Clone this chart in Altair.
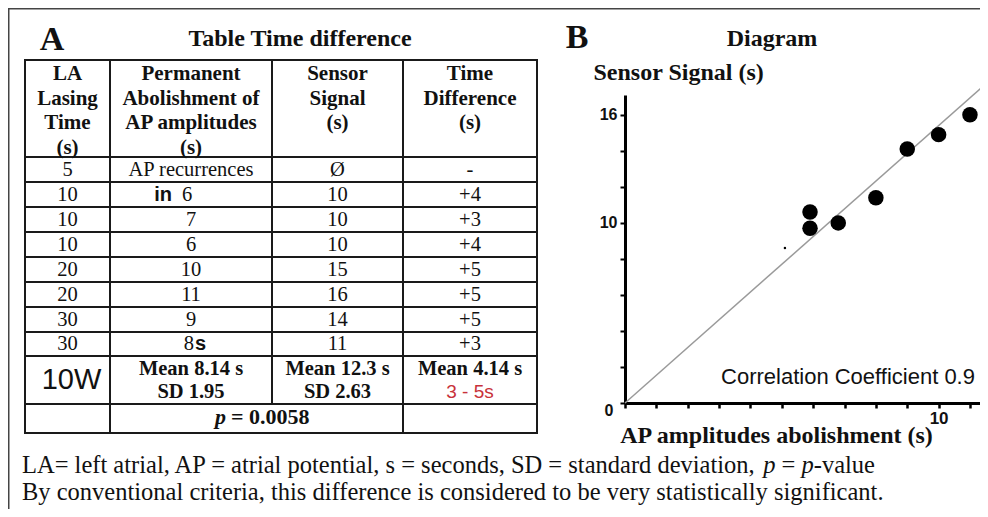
import altair as alt
import pandas as pd

# ---------------- data ----------------
header_labels = ["LA\nLasing\nTime\n(s)",
                 "Permanent\nAbolishment of\nAP amplitudes\n(s)",
                 "Sensor\nSignal\n(s)",
                 "Time\nDifference\n(s)"]
lasing_time = ["5", "10", "10", "10", "20", "20", "30", "30"]
abolishment = ["AP recurrences", "6", "7", "6", "10", "11", "9", "8"]
abolish_prefix = ["", "in", "", "", "", "", "", ""]
abolish_suffix = ["", "", "", "", "", "", "", "s"]
sensor_signal = ["Ø", "10", "10", "10", "15", "16", "14", "11"]
time_difference = ["-", "+4", "+3", "+4", "+5", "+5", "+5", "+3"]
power_label = "10W"
summary_abolish = "Mean 8.14 s\nSD 1.95"
summary_sensor = "Mean 12.3 s\nSD 2.63"
summary_diff_mean = "Mean 4.14 s"
summary_diff_range = "3 - 5s"
p_value_text = "= 0.0058"

ap_abolishment_s = [5.9, 5.9, 6.8, 8, 9, 10, 11]
sensor_signal_s = [10.6, 9.7, 10.0, 11.4, 14.1, 14.9, 16.0]
stray_dot_x = [5.1]
stray_dot_y = [8.6]
fit_x = [0, 11.6]
fit_y = [0, 17.86]
correlation_text = "Correlation Coefficient 0.9"

footer_line1 = "LA= left atrial, AP = atrial potential, s = seconds, SD = standard deviation,"
footer_line2 = "By conventional criteria, this difference is considered to be very statistically significant."

# ---------------- layout ----------------
W, H = 972, 501
SERIF = "Liberation Serif"
SANS = "Liberation Sans"
INK = "#111111"

col_edges = [17, 102, 264, 395, 529]
row_edges = [52, 149, 174, 199, 224, 249, 274, 299, 324, 348, 396, 425]


def tx():
    return alt.Scale(domain=list(range(len(col_edges))), range=col_edges, zero=False, nice=False)


def ty():
    return alt.Scale(domain=list(range(len(row_edges))), range=row_edges, zero=False, nice=False)


def sx():
    return alt.Scale(domain=[0, 11.32], range=[617, 972], zero=False, nice=False)


def sy():
    return alt.Scale(domain=[0, 17.1], range=[395, 87], zero=False, nice=False)


def tpos():
    return dict(x=alt.X("c:Q", scale=tx(), axis=None), y=alt.Y("r:Q", scale=ty(), axis=None))


def label(text, x, y, **mk):
    return alt.Chart(pd.DataFrame({"t": [text]})).mark_text(**mk).encode(
        text="t:N", x=alt.value(x), y=alt.value(y))


layers = []

# frame (top and left edges)
layers.append(alt.Chart(pd.DataFrame({"t": [0]})).mark_rule(color="#444", strokeWidth=1.5).encode(
    x=alt.value(0), x2=alt.value(W), y=alt.value(0.75)))
layers.append(alt.Chart(pd.DataFrame({"t": [0]})).mark_rule(color="#444", strokeWidth=1.5).encode(
    x=alt.value(0.75), y=alt.value(0), y2=alt.value(H)))

# table grid
grid = []
for r in range(len(row_edges)):
    grid.append(dict(c=0, c2=len(col_edges) - 1, r=r, r2=r))
for c in range(len(col_edges)):
    grid.append(dict(c=c, c2=c, r=0, r2=(len(row_edges) - 2) if c == 2 else (len(row_edges) - 1)))
layers.append(alt.Chart(pd.DataFrame(grid)).mark_rule(color="#1a1a1a", strokeWidth=2, strokeCap="square").encode(
    x2="c2:Q", y2="r2:Q", **tpos()))

# header
hdr = pd.DataFrame({"c": [0.5, 1.5, 2.5, 3.5], "r": [0] * 4, "t": header_labels})
layers.append(alt.Chart(hdr).mark_text(font=SERIF, fontWeight="bold", fontSize=21, baseline="top",
                                       lineBreak="\n", lineHeight=24.6, dy=3, color=INK).encode(
    text="t:N", **tpos()))

# body rows
body = []
for i in range(len(lasing_time)):
    r = 1.5 + i
    body.append(dict(c=0.5, r=r, t=lasing_time[i]))
    if not abolish_prefix[i] and not abolish_suffix[i]:
        body.append(dict(c=1.5, r=r, t=abolishment[i]))
    body.append(dict(c=2.5, r=r, t=sensor_signal[i]))
    body.append(dict(c=3.5, r=r, t=time_difference[i]))
layers.append(alt.Chart(pd.DataFrame(body)).mark_text(font=SERIF, fontSize=20.5, baseline="middle",
                                                      color=INK).encode(text="t:N", **tpos()))

# special cells (mixed fonts)
for i in range(len(lasing_time)):
    r = 1.5 + i
    if abolish_prefix[i]:
        layers.append(alt.Chart(pd.DataFrame([dict(c=1.5, r=r, t=abolish_prefix[i])])).mark_text(
            font=SANS, fontWeight="bold", fontSize=20, baseline="middle", align="right", dx=-19,
            color=INK).encode(text="t:N", **tpos()))
        layers.append(alt.Chart(pd.DataFrame([dict(c=1.5, r=r, t=abolishment[i])])).mark_text(
            font=SERIF, fontSize=20.5, baseline="middle", align="left", dx=-9,
            color=INK).encode(text="t:N", **tpos()))
    if abolish_suffix[i]:
        layers.append(alt.Chart(pd.DataFrame([dict(c=1.5, r=r, t=abolishment[i])])).mark_text(
            font=SERIF, fontSize=20.5, baseline="middle", align="right", dx=3,
            color=INK).encode(text="t:N", **tpos()))
        layers.append(alt.Chart(pd.DataFrame([dict(c=1.5, r=r, t=abolish_suffix[i])])).mark_text(
            font=SANS, fontWeight="bold", fontSize=20, baseline="middle", align="left", dx=4,
            color=INK).encode(text="t:N", **tpos()))

# summary row
summ_r = len(lasing_time) + 1.5
layers.append(alt.Chart(pd.DataFrame([dict(c=0.5, r=summ_r, t=power_label)])).mark_text(
    font=SANS, fontSize=29, baseline="middle", dx=4, color=INK).encode(text="t:N", **tpos()))
layers.append(alt.Chart(pd.DataFrame([dict(c=1.5, r=summ_r, t=summary_abolish),
                                      dict(c=2.5, r=summ_r, t=summary_sensor)])).mark_text(
    font=SERIF, fontWeight="bold", fontSize=20.5, baseline="middle", lineBreak="\n", lineHeight=23,
    dy=-11, color=INK).encode(text="t:N", **tpos()))
layers.append(alt.Chart(pd.DataFrame([dict(c=3.5, r=summ_r, t=summary_diff_mean)])).mark_text(
    font=SERIF, fontWeight="bold", fontSize=20.5, baseline="middle", dy=-11,
    color=INK).encode(text="t:N", **tpos()))
layers.append(alt.Chart(pd.DataFrame([dict(c=3.5, r=summ_r, t=summary_diff_range)])).mark_text(
    font=SANS, fontSize=19, baseline="middle", dy=12, color="#c8323a").encode(text="t:N", **tpos()))

# p-value row (merged cell)
p_r = len(lasing_time) + 2.5
layers.append(alt.Chart(pd.DataFrame([dict(c=2, r=p_r, t="p")])).mark_text(
    font=SERIF, fontWeight="bold", fontStyle="italic", fontSize=22, baseline="middle", align="right",
    dx=-46, dy=-2, color=INK).encode(text="t:N", **tpos()))
layers.append(alt.Chart(pd.DataFrame([dict(c=2, r=p_r, t=p_value_text)])).mark_text(
    font=SERIF, fontWeight="bold", fontSize=22, baseline="middle", align="left",
    dx=-41, dy=-2, color=INK).encode(text="t:N", **tpos()))

# ---------------- scatter ----------------
layers.append(alt.Chart(pd.DataFrame({"x": fit_x, "y": fit_y})).mark_line(
    color="#9a9a9a", strokeWidth=1.5).encode(
    x=alt.X("x:Q", scale=sx(), axis=None), y=alt.Y("y:Q", scale=sy(), axis=None)))

layers.append(alt.Chart(pd.DataFrame({"x": stray_dot_x, "y": stray_dot_y})).mark_circle(
    size=6, color="black", opacity=1).encode(
    x=alt.X("x:Q", scale=sx(), axis=None), y=alt.Y("y:Q", scale=sy(), axis=None)))

x_axis = alt.Axis(orient="bottom", offset=395 - H, values=list(range(0, 12)),
                  labelExpr="datum.value == 10 ? datum.label : ''",
                  grid=False, domainColor="black", domainWidth=3, tickColor="black", tickWidth=2.5,
                  tickSize=5, labelFont=SANS, labelFontWeight="bold", labelFontSize=17, labelColor=INK,
                  labelPadding=2, labelBaseline="top",
                  title="AP amplitudes abolishment (s)", titleFont=SERIF, titleFontWeight="bold",
                  titleFontSize=24, titleColor=INK, titleX=768, titleY=32, titleAlign="center",
                  titleBaseline="middle", titleAngle=0)
y_axis = alt.Axis(orient="left", offset=-617, values=list(range(0, 17, 2)),
                  labelExpr="(datum.value == 10 || datum.value == 16) ? datum.label : ''",
                  grid=False, domainColor="black", domainWidth=3, tickColor="black", tickWidth=2,
                  tickSize=5, labelFont=SANS, labelFontWeight="bold", labelFontSize=16, labelColor=INK,
                  labelPadding=3,
                  title="Sensor Signal (s)", titleFont=SERIF, titleFontWeight="bold",
                  titleFontSize=24, titleColor=INK, titleX=-32, titleY=64, titleAlign="left",
                  titleBaseline="middle", titleAngle=0)

layers.append(alt.Chart(pd.DataFrame({"x": ap_abolishment_s, "y": sensor_signal_s})).mark_circle(
    size=240, color="black", opacity=1).encode(
    x=alt.X("x:Q", scale=sx(), axis=x_axis), y=alt.Y("y:Q", scale=sy(), axis=y_axis)))

layers.append(alt.Chart(pd.DataFrame({"x": [0], "y": [0], "t": ["0"]})).mark_text(
    font=SANS, fontWeight="bold", fontSize=16, dx=-16, dy=8, baseline="middle", color=INK).encode(
    text="t:N", x=alt.X("x:Q", scale=sx(), axis=None), y=alt.Y("y:Q", scale=sy(), axis=None)))

layers.append(alt.Chart(pd.DataFrame({"x": [11.16], "y": [1.44], "t": [correlation_text]})).mark_text(
    font=SANS, fontSize=22, align="right", baseline="middle", color=INK).encode(
    text="t:N", x=alt.X("x:Q", scale=sx(), axis=None), y=alt.Y("y:Q", scale=sy(), axis=None)))

# ---------------- titles ----------------
layers.append(label("A", 44, 32, font=SERIF, fontWeight="bold", fontSize=34, baseline="middle", color=INK))
layers.append(label("Table Time difference", 292, 31, font=SERIF, fontWeight="bold", fontSize=24,
                    baseline="middle", color=INK))
layers.append(label("B", 569, 30, font=SERIF, fontWeight="bold", fontSize=34, baseline="middle", color=INK))
layers.append(label("Diagram", 764, 31, font=SERIF, fontWeight="bold", fontSize=24, baseline="middle",
                    color=INK))

# ---------------- footer ----------------
FS = 24.5
FX = 14
layers.append(label(footer_line1, FX, 458, font=SERIF, fontSize=FS, align="left", baseline="middle", color=INK))
layers.append(label("p", FX + 30.253 * FS, 458, font=SERIF, fontStyle="italic", fontSize=FS, align="left",
                    baseline="middle", color=INK))
layers.append(label("=", FX + 31.003 * FS, 458, font=SERIF, fontSize=FS, align="left",
                    baseline="middle", color=INK))
layers.append(label("p", FX + 31.817 * FS, 458, font=SERIF, fontStyle="italic", fontSize=FS, align="left",
                    baseline="middle", color=INK))
layers.append(label("-value", FX + 32.317 * FS, 458, font=SERIF, fontSize=FS, align="left",
                    baseline="middle", color=INK))
layers.append(label(footer_line2, FX, 485, font=SERIF, fontSize=FS, align="left", baseline="middle", color=INK))

chart = alt.layer(*layers).resolve_scale(x="independent", y="independent").resolve_axis(
    x="independent", y="independent").properties(
    width=W, height=H, autosize=alt.AutoSizeParams(type="none"), padding=0, background="white"
).configure_view(stroke=None)

chart.save("out.html", embed_options={"renderer": "svg", "actions": False})
